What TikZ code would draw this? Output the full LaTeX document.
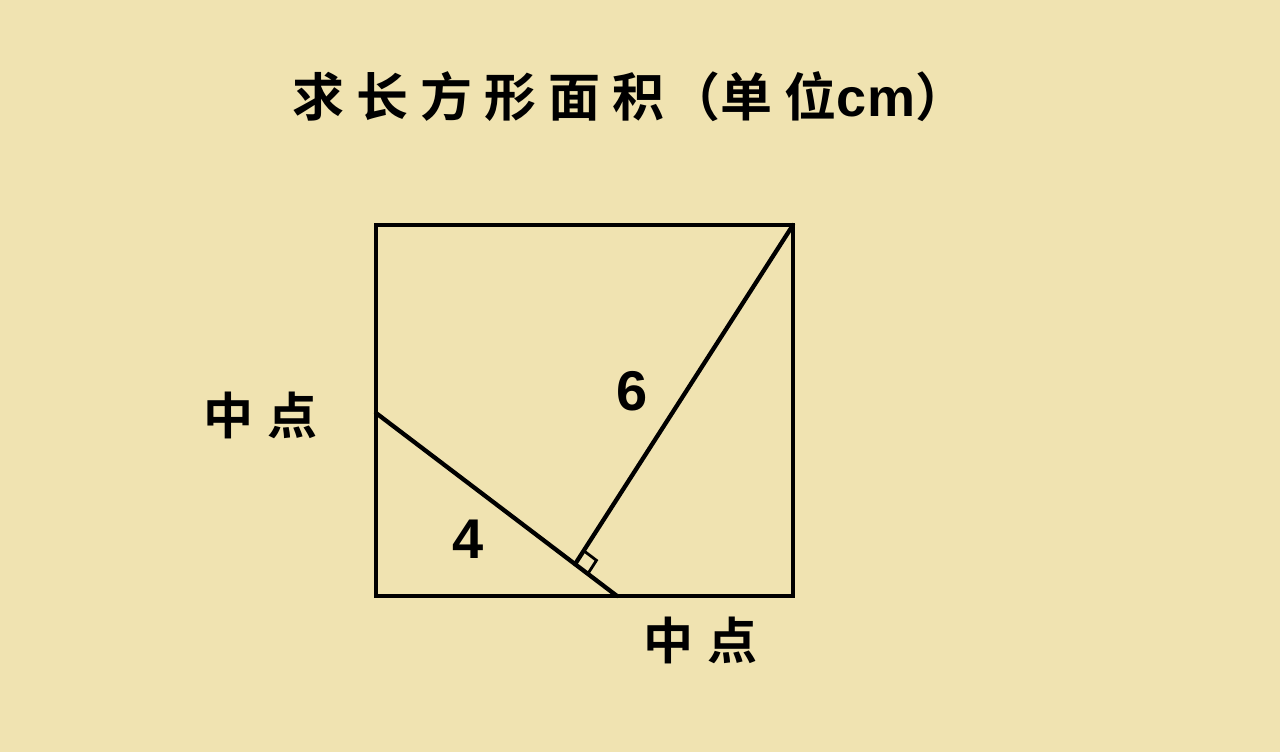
\documentclass[tikz,border=0pt]{standalone}
\usepackage{fontspec}
\newfontfamily\cjk{Noto Sans CJK SC}[BoldFont={Noto Sans CJK SC Bold}]
\newfontfamily\latinsans{Liberation Sans}
\usetikzlibrary{calc}
\definecolor{paper}{RGB}{240,227,177}
\tikzset{
  edge/.style={line width=4.3pt, line cap=round, line join=miter},
  rightmark/.style={line width=2.8pt},
  cjklabel/.style={font=\cjk\bfseries\fontsize{50}{50}\selectfont, inner sep=0pt},
  numlabel/.style={font=\latinsans\bfseries\fontsize{56}{56}\selectfont, inner sep=0pt}
}
\begin{document}
\begin{tikzpicture}[x=1pt,y=-1pt]
\fill[paper] (0,0) rectangle (1280,752);
\useasboundingbox (0,0) rectangle (1280,752);
% corners
\coordinate (TL) at (376,225);
\coordinate (TR) at (793,225);
\coordinate (BR) at (793,596);
\coordinate (BL) at (376,596);
\coordinate (M1) at (376,413);
\coordinate (M2) at (617,596);
\coordinate (F) at ($(M1)!0.826!(M2)$);
\draw[edge] (TL) -- (TR) -- (BR) -- (BL) -- cycle;
\draw[edge] (M1) -- (M2);
\draw[edge] (TR) -- (F);
\coordinate (Ra) at ($(F)!16pt!(M2)$);
\coordinate (Rb) at ($(F)!16pt!(TR)$);
\draw[rightmark] (Ra) -- ($(Ra)+(Rb)-(F)$) -- (Rb);
% labels
\node[cjklabel] (title) at (630,97) {\fontsize{52}{52}\selectfont 求\hspace{12pt}长\hspace{12pt}方\hspace{12pt}形\hspace{12pt}面\hspace{12pt}积\hspace{4pt}（单\hspace{12pt}位{\latinsans\bfseries\fontsize{54}{54}\selectfont cm}）};
\node[cjklabel] (midL) at (260,415) {中\hspace{14pt}点};
\node[cjklabel] (midB) at (700,640) {中\hspace{14pt}点};
\node[numlabel] (six) at (632,391) {6};
\node[numlabel] (four) at (468,539) {4};
\end{tikzpicture}
\end{document}
